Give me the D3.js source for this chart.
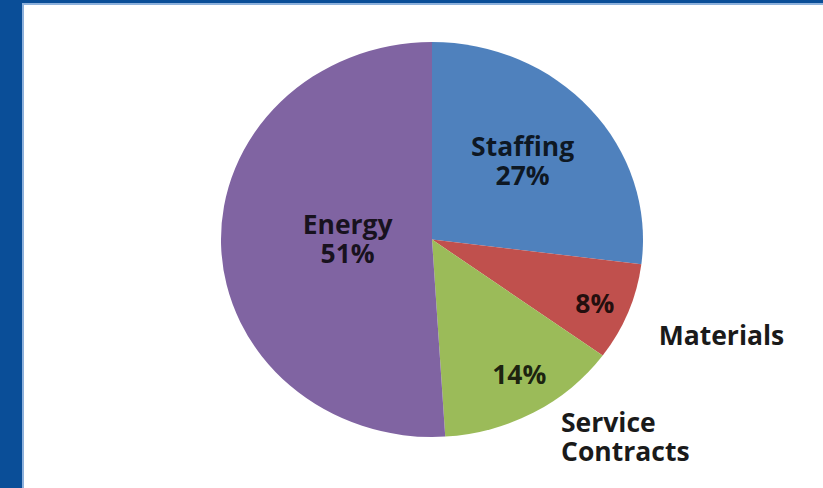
<!DOCTYPE html>
<html>
<head>
<meta charset="utf-8">
<script src="https://cdn.jsdelivr.net/npm/d3@7"></script>
<style>
  html, body { margin: 0; padding: 0; background: #fff; }
  svg { display: block; }
</style>
</head>
<body>
<svg id="chart" width="823" height="488"></svg>
<script>
// Cost breakdown, percent of total
const categories = ["Staffing", "Materials", "Service Contracts", "Energy"];
const shares = [27, 8, 14, 51];
const sliceColors = ["#4f81bd", "#c0504d", "#9bbb59", "#8064a2"];

// Label layout: radius factor for the value label inside each slice,
// whether the category name sits inside with it, and where outside names go.
const insideRadius = [0.585, 0.835, 0.80, 0.40];
const insideNudge = [[-2, -2], [-1, 3], [6, -3], [0, -3]];
const nameInside = [true, false, false, true];
const outsideName = [null, { dx: 289.5, dy: 95.5, anchor: "middle" }, { dx: 129, dy: 197, anchor: "start" }, null];

const W = 823, H = 488;
const cx = 432, cy = 239.5, rx = 211, ry = 197.5;
const fontSize = 26.5, lineH = 29, capH = 19;

const svg = d3.select("#chart");

// frame: heavy bar on the left, thin rule along the top
svg.append("rect").attr("x", 0).attr("y", 0).attr("width", W).attr("height", H).attr("fill", "#fff");
svg.append("rect").attr("x", 22).attr("y", 3).attr("width", 2).attr("height", H).attr("fill", "#8db1dc");
svg.append("rect").attr("x", 22).attr("y", 3).attr("width", W).attr("height", 2).attr("fill", "#8db1dc");
svg.append("rect").attr("x", 0).attr("y", 0).attr("width", 22).attr("height", H).attr("fill", "#0a4e98");
svg.append("rect").attr("x", 0).attr("y", 0).attr("width", W).attr("height", 3).attr("fill", "#0a4e98");

const arcs = d3.pie().sort(null).value(d => d)(shares);
const arc = d3.arc().innerRadius(0).outerRadius(ry);
const sx = rx / ry;

// slices, drawn on a circle and stretched slightly wider than tall
const pieG = svg.append("g").attr("transform", `translate(${cx},${cy}) scale(${sx},1)`);
pieG.selectAll("path")
  .data(arcs)
  .join("path")
  .attr("d", arc)
  .attr("fill", (d, i) => sliceColors[i]);

const labelG = svg.append("g")
  .attr("transform", `translate(${cx},${cy})`)
  .attr("font-family", "'Open Sans', Lato, sans-serif")
  .attr("font-weight", 700)
  .attr("font-size", fontSize);

// one text element per label, its lines as tspans centred vertically on (x, y)
function block(g, x, y, lines, anchor, fill, opacity) {
  const n = lines.length;
  const t = g.append("text")
    .attr("text-anchor", anchor)
    .attr("fill", fill)
    .attr("fill-opacity", opacity);
  lines.forEach((s, k) => {
    t.append("tspan")
      .attr("x", x)
      .attr("y", y + (k - (n - 1) / 2) * lineH + capH / 2)
      .text(s);
  });
}

arcs.forEach((d, i) => {
  const r = ry * insideRadius[i];
  const [ux, uy] = d3.arc().innerRadius(r).outerRadius(r).centroid(d);
  const x = ux * sx + insideNudge[i][0];
  const y = uy + insideNudge[i][1];
  const pct = `${shares[i]}%`;
  const lines = nameInside[i] ? [categories[i], pct] : [pct];
  block(labelG, x, y, lines, "middle", "#000", 0.82);
  const o = outsideName[i];
  if (o) {
    const words = categories[i].split(" ");
    block(labelG, o.dx, o.dy, words, o.anchor, "#1a1a1a", 1);
  }
});
</script>
</body>
</html>
